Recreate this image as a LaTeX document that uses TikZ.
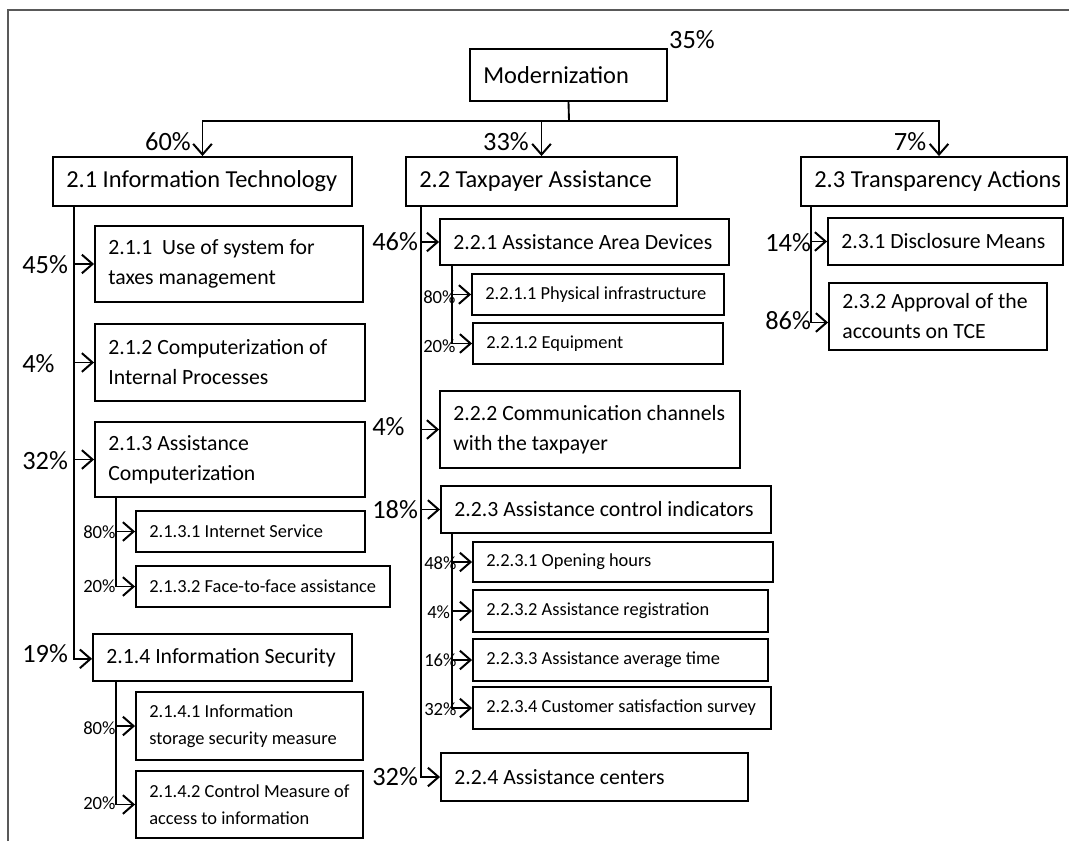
\documentclass[tikz,border=0pt]{standalone}
\usepackage{fontspec}
\setmainfont{Carlito}
\usetikzlibrary{arrows.meta,fit}
\tikzset{
  box/.style={draw, line width=1.4pt, inner sep=0pt},
  arr/.style={line width=1.4pt, -{Straight Barb[length=8pt,width=14pt,line width=1.5pt]}},
  ln/.style={line width=1.4pt},
  frame/.style={draw=black!65, line width=1.5pt},
  Lone/.style={font=\fontsize{18.3}{21}\selectfont},
  Lthree/.style={font=\fontsize{16.3}{22.5}\selectfont},
  Lfour/.style={font=\fontsize{13.8}{20}\selectfont},
  Pbig/.style={font=\fontsize{19.8}{22}\selectfont, inner sep=0pt},
  Psmall/.style={font=\fontsize{14}{16}\selectfont, inner sep=0pt},
}
\newcommand\mybox[7]{%
  \node[box, fit={(#2,#3) (#4,#5)}] (#1) {};
  \node[#6, anchor=west, align=left, inner sep=0pt] (#1-t) at ([xshift=10.5pt]#1.west) {#7};
}
\begin{document}
\begin{tikzpicture}[x=0.75pt, y=-0.75pt]
\useasboundingbox (0,0) rectangle (1069,841);
% frame
\draw[frame] (8,841) -- (8,10) -- (1069,10);

% boxes
\mybox{mod}{470}{49}{667}{101}{Lone}{Modernization}
\mybox{n21}{53}{157}{352}{206}{Lone}{2.1 Information Technology}
\mybox{n22}{406}{157}{677}{206}{Lone}{2.2 Taxpayer Assistance}
\mybox{n23}{801}{157}{1067}{206}{Lone}{2.3 Transparency Actions}

\mybox{n211}{95}{226}{363}{302}{Lthree}{2.1.1~ Use of system for\\taxes management}
\mybox{n212}{95}{324}{365}{401}{Lthree}{2.1.2 Computerization of\\Internal Processes}
\mybox{n213}{95}{422}{365}{497}{Lthree}{2.1.3 Assistance\\Computerization}
\mybox{n2131}{136}{511}{365}{552}{Lfour}{2.1.3.1 Internet Service}
\mybox{n2132}{136}{566}{390}{607}{Lfour}{2.1.3.2 Face-to-face assistance}
\mybox{n214}{93}{634}{352}{681}{Lthree}{2.1.4 Information Security}
\mybox{n2141}{136}{692}{363}{760}{Lfour}{2.1.4.1 Information\\storage security measure}
\mybox{n2142}{136}{771}{363}{838}{Lfour}{2.1.4.2 Control Measure of\\access to information}

\mybox{n221}{440}{219}{729}{265}{Lthree}{2.2.1 Assistance Area Devices}
\mybox{n2211}{472}{274}{724}{315}{Lfour}{2.2.1.1 Physical infrastructure}
\mybox{n2212}{473}{323}{723}{364}{Lfour}{2.2.1.2 Equipment}
\mybox{n222}{440}{391}{740}{468}{Lthree}{2.2.2 Communication channels\\with the taxpayer}
\mybox{n223}{441}{486}{771}{533}{Lthree}{2.2.3 Assistance control indicators}
\mybox{n2231}{473}{542}{773}{582}{Lfour}{2.2.3.1 Opening hours}
\mybox{n2232}{473}{590}{768}{632}{Lfour}{2.2.3.2 Assistance registration}
\mybox{n2233}{473}{639}{768}{681}{Lfour}{2.2.3.3 Assistance average time}
\mybox{n2234}{473}{687}{771}{729}{Lfour}{2.2.3.4 Customer satisfaction survey}
\mybox{n224}{441}{753}{748}{801}{Lthree}{2.2.4 Assistance centers}

\mybox{n231}{828}{218}{1063}{265}{Lthree}{2.3.1 Disclosure Means}
\mybox{n232}{829}{283}{1047}{350}{Lthree}{2.3.2 Approval of the\\accounts on TCE}

% trunk coordinates
\coordinate (bus) at (569,121);
\coordinate (t21) at (74,0);
\coordinate (t213) at (116,0);
\coordinate (t22) at (421,0);
\coordinate (t221) at (452,0);
\coordinate (t23) at (811,0);

% top level connectors
\draw[ln] (mod.south) -- (bus);
\draw[arr] (bus) -| (n21.north);
\draw[arr] (bus) -| (n22.north);
\draw[arr] (bus) -| ([xshift=3.75pt]n23.north);

% 2.1 branch
\draw[arr] (n21.south -| t21) |- (n211.west);
\draw[arr] (n21.south -| t21) |- (n212.west);
\draw[arr] (n21.south -| t21) |- (n213.west);
\draw[arr] (n21.south -| t21) |- ([yshift=-1pt]n214.west);
\draw[arr] (n213.south -| t213) |- (n2131.west);
\draw[arr] (n213.south -| t213) |- (n2132.west);
\draw[arr] (n214.south -| t213) |- (n2141.west);
\draw[arr] (n214.south -| t213) |- (n2142.west);

% 2.2 branch
\draw[arr] (n22.south -| t22) |- (n221.west);
\draw[arr] (n22.south -| t22) |- (n222.west);
\draw[arr] (n22.south -| t22) |- (n223.west);
\draw[arr] (n22.south -| t22) |- (n224.west);
\draw[arr] (n221.south -| t221) |- (n2211.west);
\draw[arr] (n221.south -| t221) |- (n2212.west);
\draw[arr] (n223.south -| t221) |- (n2231.west);
\draw[arr] (n223.south -| t221) |- (n2232.west);
\draw[arr] (n223.south -| t221) |- (n2233.west);
\draw[arr] (n223.south -| t221) |- (n2234.west);

% 2.3 branch
\draw[arr] (n23.south -| t23) |- (n231.west);
\draw[arr] (n23.south -| t23) |- ([yshift=-4.5pt]n232.west);

% percentages
\node[Pbig] (p35) at (692,40) {35\%};
\node[Pbig] (p60) at (168,142) {60\%};
\node[Pbig] (p33) at (506,142) {33\%};
\node[Pbig] (p7) at (910,142) {7\%};

\node[Pbig, anchor=west] (p45) at (22,265) {45\%};
\node[Pbig, anchor=west] (p4a) at (22,364) {4\%};
\node[Pbig, anchor=west] (p32a) at (22,461) {32\%};
\node[Pbig, anchor=west] (p19) at (22,654) {19\%};
\node[Psmall, anchor=west] (p80a) at (83,532) {80\%};
\node[Psmall, anchor=west] (p20a) at (83,586) {20\%};
\node[Psmall, anchor=west] (p80b) at (83,728) {80\%};
\node[Psmall, anchor=west] (p20b) at (83,803) {20\%};

\node[Pbig, anchor=west] (p46) at (372,242) {46\%};
\node[Psmall, anchor=west] (p80c) at (423,297) {80\%};
\node[Psmall, anchor=west] (p20c) at (423,346) {20\%};
\node[Pbig, anchor=west] (p4b) at (372,427) {4\%};
\node[Pbig, anchor=west] (p18) at (372,510) {18\%};
\node[Psmall, anchor=west] (p48) at (424,563) {48\%};
\node[Psmall, anchor=west] (p4c) at (427,612) {4\%};
\node[Psmall, anchor=west] (p16) at (424,660) {16\%};
\node[Psmall, anchor=west] (p32c) at (424,709) {32\%};
\node[Pbig, anchor=west] (p32b) at (372,777) {32\%};

\node[Pbig, anchor=west] (p14) at (765,243) {14\%};
\node[Pbig, anchor=west] (p86) at (765,321) {86\%};
\end{tikzpicture}
\end{document}
